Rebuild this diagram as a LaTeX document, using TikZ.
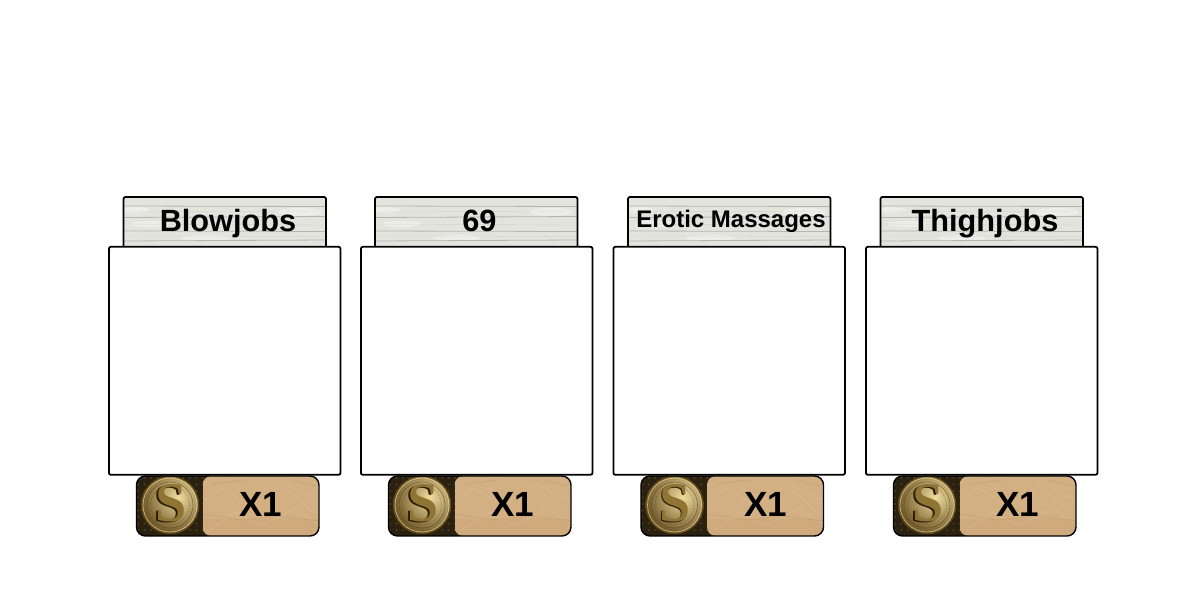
\documentclass[tikz,border=0pt]{standalone}
\usepackage{fontspec}
\setmainfont{Liberation Sans}
\newfontfamily\coinfont{Liberation Serif}
\definecolor{woodbase}{HTML}{E4E4DF}
\definecolor{woodline}{HTML}{B6B6AF}
\definecolor{woodpale}{HTML}{F2F2EF}
\definecolor{marble}{HTML}{D3B083}
\definecolor{marblelight}{HTML}{E0C6A0}
\definecolor{marbledark}{HTML}{C09C6C}
\definecolor{bronze}{HTML}{2A2110}
\definecolor{bronzelight}{HTML}{4E4022}
\definecolor{goldlight}{HTML}{EFDC9E}
\definecolor{golddark}{HTML}{5E4619}
\definecolor{sface}{HTML}{8F7434}
\definecolor{sdark}{HTML}{2E2008}
\tikzset{
  x=1pt,y=-1pt,
  panelbox/.style={draw=black,line width=1.8pt,fill=white,rounded corners=2pt},
  woodoutline/.style={draw=black,line width=1.8pt,rounded corners=2pt},
  costoutline/.style={draw=black,line width=1.4pt,rounded corners=9pt},
  woodgrain/.style={draw=woodline,line width=.8pt},
  woodfaint/.style={draw=woodline,line width=.4pt,opacity=.35},
  woodpatch/.style={fill=woodpale,opacity=.65},
  vein/.style={draw=marblelight,line width=.6pt,opacity=.5},
  veindark/.style={draw=marbledark,line width=1.4pt,opacity=.4},
  titletext/.style={anchor=base,inner sep=0pt,text=black,font=\bfseries\fontsize{30.7}{36}\selectfont},
  smalltitle/.style={anchor=base,inner sep=0pt,text=black,font=\bfseries\fontsize{24}{28}\selectfont},
  costtext/.style={anchor=base,inner sep=0pt,text=black,font=\bfseries\fontsize{35}{40}\selectfont},
  stext/.style={anchor=center,inner sep=0pt,font=\coinfont\bfseries\fontsize{56}{60}\selectfont},
}
% #1 offset of box, #2 offset of header, #3 name, #4 title style, #5 title, #6 title centre, #7 baseline
\newcommand{\gamecard}[7]{%
  % header
  \begin{scope}[shift={(#2,0)}]
    \begin{scope}
      \clip[rounded corners=2pt] (123.5,197) rectangle (326,248);
      \fill[woodbase] (123.5,197) rectangle (326,248);
      \fill[woodpatch] (135,210) ellipse (14 and 3);
      \fill[woodpatch] (205,238) ellipse (24 and 3);
      \fill[woodpatch] (300,212) ellipse (22 and 4);
      \fill[woodpatch] (150,224) ellipse (20 and 3);
      \draw[woodgrain] (123.5,206) -- (326,206.5);
      \draw[woodgrain] (123.5,217.5) -- (326,216.5);
      \draw[woodgrain] (123.5,231) -- (326,231.5);
      \draw[woodgrain] (123.5,241) -- (326,240);
      \draw[woodfaint] (123.5,212) -- (326,211);
      \draw[woodfaint] (123.5,224) -- (326,225);
      \draw[woodfaint] (123.5,236) -- (326,236.5);
    \end{scope}
    \draw[woodoutline] (123.5,248) -- (123.5,197) -- (326,197) -- (326,248);
  \end{scope}
  \node[#4] (title#3) at (#6,#7) {#5};
  % main panel
  \begin{scope}[shift={(#1,0)}]
    \node[panelbox,outer sep=0pt,minimum width=231.6pt,minimum height=228pt,inner sep=0pt,anchor=north west] (panel#3) at (108.9,246.8) {};
    % dark strip with dotted pattern
    \begin{scope}
      \clip[rounded corners=9pt] (136.5,476) rectangle (319,536);
      \fill[bronze] (136.5,476) rectangle (319,536);
      \foreach \i in {0,1,2,3,4,5,6,7,8,9,10}{
        \foreach \j in {0,1,2,3,4,5,6,7,8,9}{
          \fill[bronzelight] (138+\i*6.5,478+\j*6.5) circle (1.1);
        }
      }
    \end{scope}
    % marble part, with its own rounded corners
    \begin{scope}
      \clip[rounded corners=9pt] (202.5,476) rectangle (319,536);
      \fill[marble] (202.5,476) rectangle (319,536);
      \fill[marbledark,opacity=.25] (202.5,519) rectangle (319,536);
      \draw[vein] (204,500) -- (222,488) -- (250,505) -- (285,484) -- (318,500);
      \draw[vein] (210,530) -- (236,512) -- (262,526) -- (295,508) -- (318,524);
      \draw[vein] (228,478) -- (246,496);
      \draw[vein] (288,490) -- (312,512);
      \draw[veindark] (204,514) -- (240,520) -- (280,516) -- (318,521);
      \draw[veindark] (212,484) -- (245,480);
      \draw[veindark] (292,480) -- (316,486);
    \end{scope}
    % coin
    \begin{scope}
      \clip (170,505) circle (29);
      \shade[inner color=goldlight,outer color=golddark] (178,497) circle (42);
    \end{scope}
    \draw[golddark,line width=1.2pt] (170,505) circle (28.6);
    \draw[goldlight,line width=.7pt,opacity=.7] (170,505) circle (27);
    \draw[golddark,line width=.7pt,opacity=.55] (170,505) circle (23);
    \draw[golddark,line width=.6pt,opacity=.5,dash pattern=on 1.5pt off 1.5pt] (170,505) circle (19.5);
    \draw[costoutline] (136.5,476) rectangle (319,536);
    \node[stext,text=sdark] (s#3) at (169.2,504.2) {S};
    \node[stext,text=sface] (shi#3) at (170.6,503.2) {S};
    \node[costtext] (cost#3) at (261,516) {X1};
  \end{scope}
}
\begin{document}
\begin{tikzpicture}
  \useasboundingbox (0,0) rectangle (1200,600);
  \fill[white] (0,0) rectangle (1200,600);
  \gamecard{0}{0}{a}{titletext}{Blowjobs}{228}{231}
  \gamecard{252}{251.5}{b}{titletext}{69}{479.5}{231}
  \gamecard{504.5}{504.5}{c}{smalltitle}{Erotic Massages}{731}{227}
  \gamecard{757}{757}{d}{titletext}{Thighjobs}{985}{231}
\end{tikzpicture}
\end{document}
